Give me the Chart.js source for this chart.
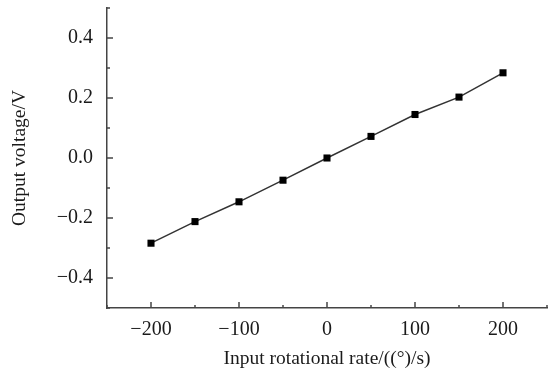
<!DOCTYPE html>
<html>
<head>
<meta charset="utf-8">
<script src="https://cdn.jsdelivr.net/npm/chart.js@4"></script>
<style>
  html, body { margin: 0; padding: 0; background: #fff; }
  #wrap { width: 556px; height: 371px; }
</style>
</head>
<body>
<div id="wrap"><canvas id="c" width="556" height="371"></canvas></div>
<script>
// data
const rates = [-200, -150, -100, -50, 0, 50, 100, 150, 200];
const voltages = [-0.284, -0.212, -0.146, -0.074, 0.0, 0.072, 0.145, 0.203, 0.284];
const xMajorTicks = [-200, -100, 0, 100, 200];
const yMajorTicks = [-0.4, -0.2, 0.0, 0.2, 0.4];

const axisColor = "#444";
const textColor = "#1a1a1a";
const fontFamily = "'Liberation Serif', 'DejaVu Serif', serif";

// inward tick marks (major + minor) drawn from the scales
const innerTicks = {
  id: "innerTicks",
  afterDraw(chart) {
    const { ctx, chartArea, scales } = chart;
    ctx.save();
    ctx.strokeStyle = axisColor;
    ctx.lineWidth = 1.5;
    for (let v = -250; v <= 250; v += 50) {
      const x = scales.x.getPixelForValue(v);
      const len = xMajorTicks.includes(v) ? 6 : 3;
      ctx.beginPath();
      ctx.moveTo(x, chartArea.bottom);
      ctx.lineTo(x, chartArea.bottom - len);
      ctx.stroke();
    }
    for (let i = -5; i <= 5; i++) {
      const v = i / 10;
      const y = scales.y.getPixelForValue(v);
      const len = i % 2 === 0 ? 6 : 3;
      ctx.beginPath();
      ctx.moveTo(chartArea.left, y);
      ctx.lineTo(chartArea.left + len, y);
      ctx.stroke();
    }
    ctx.restore();
  }
};

new Chart(document.getElementById("c"), {
  type: "line",
  data: {
    datasets: [{
      data: rates.map((r, i) => ({ x: r, y: voltages[i] })),
      borderColor: "#333",
      borderWidth: 1.5,
      pointStyle: "rect",
      pointRadius: 5,
      pointBackgroundColor: "#000",
      pointBorderColor: "#000",
      pointBorderWidth: 0,
      tension: 0
    }]
  },
  options: {
    responsive: false,
    animation: false,
    layout: { padding: { top: 8, right: 9, left: 0, bottom: 0 } },
    plugins: { legend: { display: false }, tooltip: { enabled: false } },
    scales: {
      x: {
        type: "linear",
        min: -250,
        max: 250,
        afterFit: s => { s.height = 63; s.paddingLeft = 0; s.paddingRight = 0; },
        afterBuildTicks: s => { s.ticks = xMajorTicks.map(v => ({ value: v })); },
        grid: { drawOnChartArea: false, drawTicks: false },
        border: { display: true, color: axisColor, width: 1.5 },
        ticks: {
          color: textColor,
          padding: 10,
          font: { family: fontFamily, size: 20 },
          callback: v => (v < 0 ? "\u2212" + Math.abs(v) : String(v))
        },
        title: {
          display: true,
          text: "Input rotational rate/((\u00b0)/s)",
          color: textColor,
          font: { family: fontFamily, size: 19.5 },
          padding: { top: 2, bottom: 0 }
        }
      },
      y: {
        type: "linear",
        min: -0.5,
        max: 0.5,
        afterFit: s => { s.width = 107; s.paddingTop = 0; s.paddingBottom = 0; },
        afterBuildTicks: s => { s.ticks = yMajorTicks.map(v => ({ value: v })); },
        grid: { drawOnChartArea: false, drawTicks: false },
        border: { display: true, color: axisColor, width: 1.5 },
        ticks: {
          color: textColor,
          padding: 14,
          font: { family: fontFamily, size: 20 },
          callback: v => {
            const t = Math.abs(v).toFixed(1);
            return v < -1e-9 ? "\u2212" + t : t;
          }
        },
        title: {
          display: true,
          text: "Output voltage/V",
          color: textColor,
          font: { family: fontFamily, size: 19.5 },
          padding: { top: 8, bottom: 0 }
        }
      }
    }
  },
  plugins: [innerTicks]
});
</script>
</body>
</html>
